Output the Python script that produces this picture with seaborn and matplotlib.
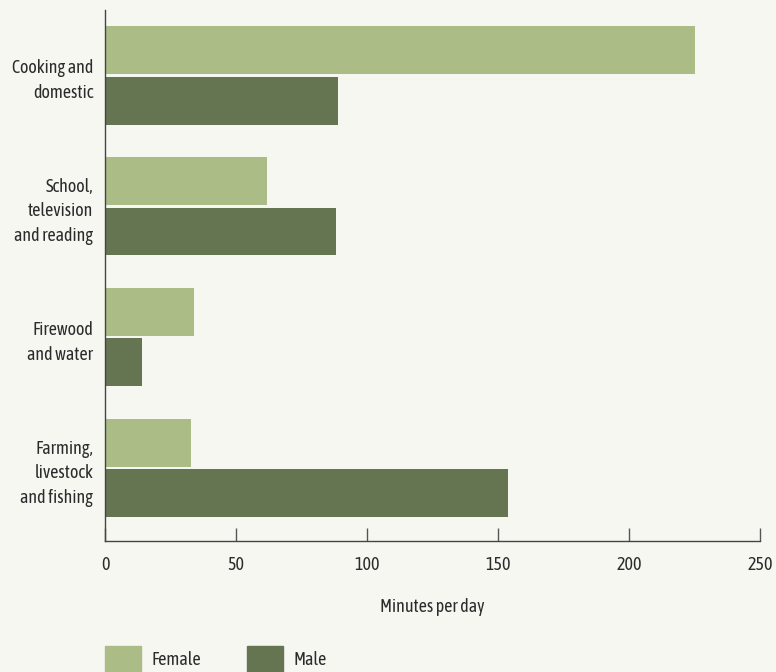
"""Time use by activity and sex: horizontal grouped bars."""
import pandas as pd
import matplotlib
matplotlib.use('Agg')
import matplotlib.pyplot as plt
import seaborn as sns

activities = ['Cooking and\ndomestic', 'School,\ntelevision\nand reading',
              'Firewood\nand water', 'Farming,\nlivestock\nand fishing']
female = [225, 62, 34, 33]
male = [89, 88, 14, 154]
sexes = ['Female', 'Male']
colors = ['#abbc87', '#667551']
x_ticks = [0, 50, 100, 150, 200, 250]

BG = '#f7f7f2'
TXT = '#2b2b2b'
FS = 13

df = pd.DataFrame({
    'activity': activities * 2,
    'minutes': female + male,
    'sex': ['Female'] * len(activities) + ['Male'] * len(activities),
})

sns.set_theme(style='white')
plt.rcParams['font.family'] = ['Asap Condensed', 'DejaVu Sans']
plt.rcParams['text.color'] = TXT

fig = plt.figure(figsize=(7.76, 6.72), dpi=100, facecolor=BG)
ax = fig.add_axes([105 / 776, 131 / 672, 655 / 776, 531 / 672])
ax.set_facecolor(BG)

sns.barplot(data=df, y='activity', x='minutes', hue='sex', order=activities,
            hue_order=sexes, palette=colors, width=0.77, gap=0.05,
            saturation=1, orient='h', linewidth=0, edgecolor='none', ax=ax)
ax.get_legend().remove()

ax.set_xlim(0, 250)
ax.set_ylim(3.557, -0.5)
ax.set_xticks(x_ticks)
ax.set_xticklabels([str(t) for t in x_ticks], fontsize=FS, color=TXT)
ax.tick_params(axis='x', bottom=True, direction='in', length=9.5, width=1,
               color='#555555', pad=11)
ax.tick_params(axis='y', left=False, length=0, pad=8.5, labelsize=FS, labelcolor=TXT)
for lbl in ax.get_yticklabels():
    lbl.set_linespacing(1.45)
ax.set_ylabel('')
ax.set_xlabel('Minutes per day', fontsize=FS, color=TXT, labelpad=17)

for side in ['top', 'right']:
    ax.spines[side].set_visible(False)
for side in ['left', 'bottom']:
    ax.spines[side].set_color('#444444')
    ax.spines[side].set_linewidth(1)

handles = [plt.Rectangle((0, 0), 1, 1, color=c) for c in colors]
fig.legend(handles, sexes, loc='lower left', bbox_to_anchor=(105 / 776, 0.0),
           ncol=2, frameon=False, fontsize=FS, handlelength=2.0, handleheight=1.8,
           handletextpad=0.6, columnspacing=2.5, borderpad=0, borderaxespad=0)

fig.savefig('out.png', dpi=100, facecolor=BG)
